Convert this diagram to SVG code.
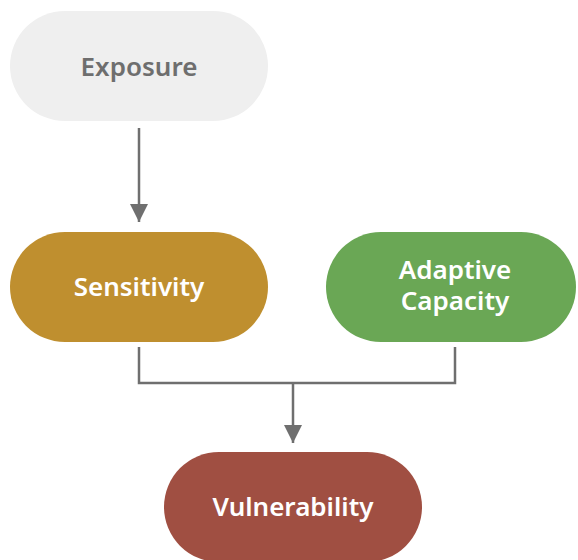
<svg xmlns="http://www.w3.org/2000/svg" width="578" height="560" viewBox="0 0 578 560">
<style>
.lbl{font-family:"Noto Sans","Open Sans","Liberation Sans",sans-serif;font-weight:600;font-size:26px;text-anchor:middle;fill:#ffffff}
.con{fill:none;stroke:#6f6f6f;stroke-width:2.5}
</style>
<defs>
<marker id="ah" viewBox="0 0 18 20" refX="18" refY="9" markerWidth="18" markerHeight="20" markerUnits="userSpaceOnUse" orient="auto">
<path d="M0,0 L18,9 L0,18 Z" fill="#6f6f6f"/>
</marker>
</defs>
<rect width="578" height="560" fill="#ffffff"/>
<g id="connectors">
<path class="con" d="M139,128 V222" marker-end="url(#ah)"/>
<path class="con" d="M139,347 V383 H455 V347"/>
<path class="con" d="M293,383 V443" marker-end="url(#ah)"/>
</g>
<g id="exposure">
<rect x="10" y="11" width="258" height="110" rx="55" fill="#efefef"/>
<text class="lbl" x="139" y="76" style="fill:#6e6e6e">Exposure</text>
</g>
<g id="sensitivity">
<rect x="10" y="232" width="258" height="110" rx="55" fill="#bf8f2f"/>
<text class="lbl" x="139" y="296">Sensitivity</text>
</g>
<g id="adaptive">
<rect x="326" y="232" width="250" height="110" rx="55" fill="#6aa755"/>
<text class="lbl" x="455" y="279">Adaptive</text>
<text class="lbl" x="455" y="310">Capacity</text>
</g>
<g id="vulnerability">
<rect x="164" y="452" width="258" height="110" rx="55" fill="#a04f42"/>
<text class="lbl" x="293" y="516">Vulnerability</text>
</g>
</svg>
